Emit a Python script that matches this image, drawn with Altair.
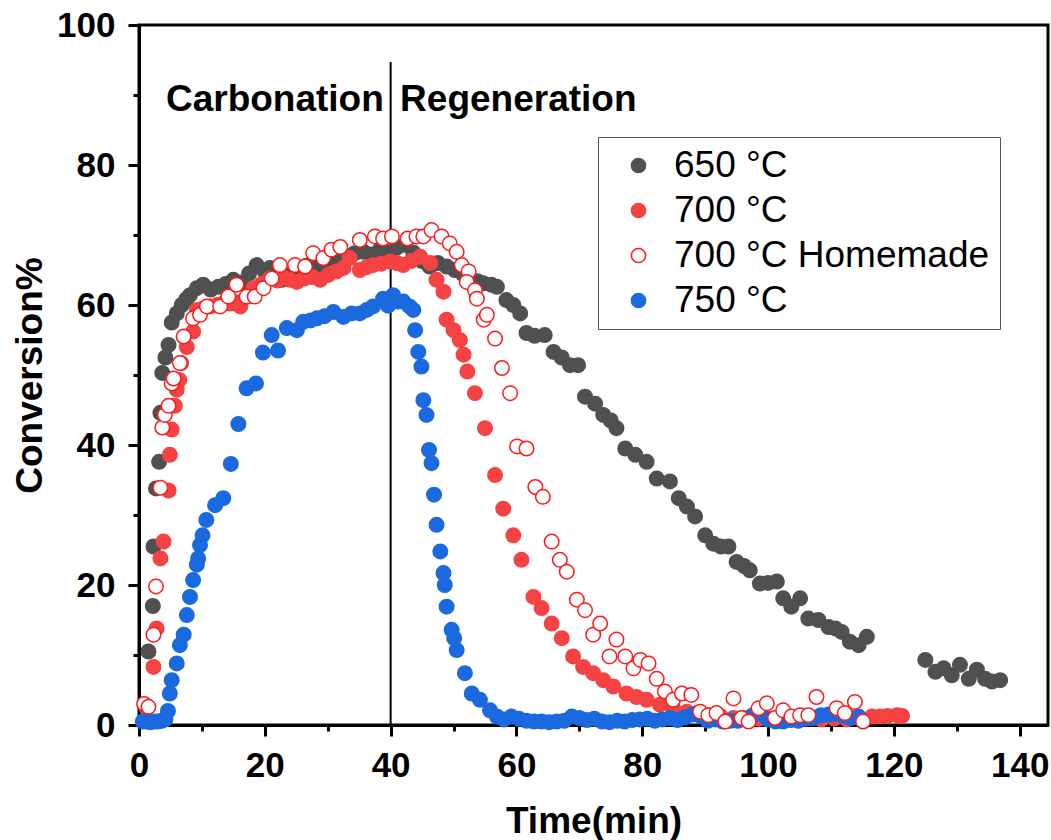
import altair as alt
import pandas as pd

# ---- data ----
x650 = [1.5, 2.2, 2.3, 2.7, 3.2, 3.4, 3.7, 4.2, 4.7, 5.2, 6.0, 6.8, 7.5, 8.1, 9.2, 10.2, 11.4, 12.6, 13.8, 15.0,
        16.3, 17.5, 18.7, 20.0, 20.8, 22.7, 24.0, 25.3, 26.6, 27.9, 29.2, 30.4, 31.7, 33.0, 34.3, 35.7, 37.0, 38.3,
        39.6, 41.0, 42.3, 43.6, 44.9, 46.2, 47.5, 48.9, 50.2, 51.5, 52.6, 53.8, 54.7, 56.0, 56.9, 58.4, 59.5, 60.6,
        61.6, 62.9, 64.5, 65.9, 67.2, 68.5, 69.8, 70.9, 72.5, 73.8, 75.0, 75.9, 77.3, 78.9, 80.7, 82.3, 84.4, 85.8,
        87.1, 88.4, 90.0, 91.3, 92.5, 93.7, 95.0, 96.2, 97.1, 98.7, 100.0, 101.4, 102.4, 103.7, 105.1, 106.4, 108.0,
        109.6, 110.7, 111.7, 113.0, 114.4, 115.7, 125.0, 126.6, 127.9, 129.2, 130.5, 131.9, 133.2, 134.5, 135.6, 136.9]
y650 = [10.5, 17.0, 25.5, 33.8, 37.6, 44.6, 50.3, 52.5, 54.3, 57.5, 58.8, 60.0, 60.8, 61.4, 62.4, 62.9, 62.2, 62.6, 63.0, 63.6,
        63.2, 64.5, 65.7, 64.8, 65.3, 63.6, 64.2, 64.8, 65.6, 65.2, 66.0, 66.7, 66.2, 67.0, 67.4, 67.6, 67.2, 67.9,
        67.5, 68.2, 68.6, 67.5, 66.3, 65.5, 66.0, 65.5, 65.0, 64.4, 63.8, 63.4, 63.1, 62.9, 62.6, 60.7, 60.0, 58.8,
        56.0, 55.6, 55.7, 53.3, 52.5, 51.4, 51.4, 46.9, 45.9, 44.3, 43.5, 42.4, 39.5, 38.6, 37.6, 35.2, 34.8, 32.4,
        31.2, 29.8, 27.1, 25.9, 25.5, 25.5, 23.3, 22.7, 22.1, 20.2, 20.3, 20.5, 18.1, 16.9, 18.1, 15.2, 15.0,
        14.0, 13.8, 13.3, 11.9, 11.4, 12.6, 9.3, 7.6, 8.1, 7.1, 8.6, 6.6, 7.9, 6.6, 6.2, 6.4]

x700 = [1.2, 2.3, 2.8, 3.4, 3.9, 4.7, 4.9, 5.2, 5.7, 6.0, 6.4, 6.7, 7.6, 8.6, 9.2, 10.2, 11.3, 12.4, 13.5, 14.5, 15.3,
        16.1, 17.2, 18.2, 19.5, 20.8, 22.0, 23.0, 24.0, 25.1, 26.3, 27.5, 28.8, 30.1, 31.4, 32.5, 33.5, 35.1, 36.2,
        37.2, 38.5, 39.9, 41.0, 42.0, 43.3, 44.7, 46.3, 47.3, 48.4, 48.9, 50.0, 51.0, 51.6, 52.2, 53.4, 55.0, 56.6,
        57.9, 59.5, 60.8, 62.7, 64.0, 65.6, 67.2, 69.0, 70.6, 72.2, 73.8, 75.4, 77.5, 79.1, 80.7, 82.8, 84.9, 87.1,
        88.7, 90.5, 92.5, 94.5, 96.5, 98.5, 100.5, 102.5, 104.5, 106.5, 108.5, 110.5, 112.5, 114.5, 116.5, 117.8,
        119.0, 120.5, 121.3]
y700 = [2.5, 8.3, 13.8, 23.8, 26.2, 33.5, 38.6, 42.2, 45.6, 47.9, 49.3, 51.7, 54.0, 56.2, 59.3, 59.5, 59.8, 60.0, 60.3, 60.2, 60.4,
        59.8, 61.2, 62.4, 63.0, 63.8, 63.5, 63.9, 63.6, 63.3, 63.8, 64.0, 63.6, 64.3, 64.8, 65.3, 66.7, 65.0, 65.4,
        65.7, 65.9, 66.2, 66.0, 65.7, 66.3, 66.9, 66.0, 63.6, 61.9, 57.9, 56.4, 55.0, 52.9, 50.5, 47.4, 42.4, 35.7,
        30.9, 27.1, 23.6, 18.3, 16.7, 14.5, 12.4, 9.8, 8.3, 7.4, 6.4, 5.5, 4.5, 4.0, 3.6, 2.9, 2.4, 1.9,
        1.7, 1.4, 1.2, 1.0, 1.0, 0.9, 0.9, 0.8, 0.8, 1.0, 0.8, 0.9, 0.8, 1.0, 1.2, 1.2,
        1.3, 1.4, 1.3]

xhm = [0.8, 1.5, 2.3, 2.7, 3.4, 3.7, 4.1, 4.7, 5.2, 5.5, 6.5, 7.1, 8.6, 9.7, 10.8, 12.9, 14.2, 15.5, 17.1, 18.4, 19.8,
       21.1, 22.4, 24.8, 26.4, 27.7, 29.3, 30.6, 32.0, 35.1, 37.5, 38.8, 40.2, 42.7, 44.1, 45.2, 46.5, 48.1, 49.4,
       50.5, 51.3, 52.4, 52.1, 53.4, 53.7, 54.8, 55.3, 56.6, 57.7, 59.0, 60.1, 61.6, 63.0, 64.2, 65.6, 66.9, 68.0,
       69.6, 70.9, 72.2, 73.3, 74.8, 75.9, 77.3, 78.6, 79.7, 81.0, 82.3, 83.6, 84.9, 86.3, 87.8, 89.2, 90.5, 91.8,
       93.2, 94.5, 95.8, 96.9, 98.5, 99.8, 101.1, 102.4, 103.7, 105.1, 106.4, 107.7, 110.9, 112.2, 113.8, 115.1]
yhm = [3.0, 2.6, 12.9, 19.8, 33.9, 42.5, 44.3, 45.6, 48.8, 49.5, 51.7, 55.5, 58.1, 58.6, 59.8, 59.8, 61.2, 62.9, 61.2, 61.2, 62.4,
       63.8, 65.7, 65.7, 65.5, 67.4, 66.7, 67.9, 68.3, 69.3, 69.8, 69.5, 69.8, 69.5, 69.8, 69.8, 70.7, 69.8, 68.8,
       67.6, 65.7, 64.8, 63.3, 62.1, 60.9, 57.9, 58.6, 55.2, 51.0, 47.4, 39.8, 39.5, 34.0, 32.6, 26.2, 23.6, 21.9,
       17.9, 16.4, 12.9, 14.5, 9.8, 12.2, 9.8, 8.1, 9.3, 8.8, 6.6, 4.8, 3.6, 4.5, 4.3, 1.9, 1.4, 1.7,
       0.5, 3.8, 1.0, 0.5, 2.4, 3.1, 1.0, 2.1, 1.2, 1.4, 1.4, 4.0, 2.4, 1.7, 3.3, 0.5]

x750 = [0.6, 1.2, 1.8, 2.4, 3.0, 3.6, 4.2, 4.6, 4.9, 5.2, 6.0, 6.5, 7.1, 7.6, 8.1, 8.6, 9.2, 9.4, 9.7, 10.1, 10.7,
        12.1, 13.4, 14.6, 15.8, 17.1, 18.6, 19.7, 21.1, 22.1, 23.5, 25.1, 26.1, 27.3, 28.3, 29.5, 30.9, 32.5, 33.8,
        35.1, 36.2, 37.2, 38.8, 39.6, 40.4, 41.2, 42.0, 43.0, 43.6, 43.9, 44.4, 44.9, 45.2, 45.7, 46.1, 46.5, 46.9,
        47.3, 47.9, 48.4, 48.6, 48.9, 49.7, 50.1, 50.5, 51.8, 52.9, 54.2, 55.8, 56.9, 58.0, 59.2, 60.4, 61.6, 62.8,
        64.0, 65.2, 66.4, 67.6, 68.8, 70.0, 71.2, 72.4, 73.6, 74.8, 76.0, 77.2, 78.4, 79.6, 80.8, 82.0, 83.2, 84.4,
        85.6, 86.8, 88.0, 89.2, 90.4, 91.6, 92.8, 94.0, 95.2, 96.4, 97.6, 98.8, 100.0, 101.2, 102.4, 103.6, 104.8,
        106.0, 107.2, 108.4, 109.6, 110.8, 112.0, 113.2, 114.4]
y750 = [0.5, 0.5, 0.4, 0.5, 0.5, 0.6, 0.8, 2.0, 4.5, 6.4, 8.8, 11.4, 12.9, 15.7, 18.3, 20.7, 22.9, 23.8, 25.7, 27.1, 29.3,
        31.4, 32.4, 37.3, 43.0, 48.1, 48.8, 53.2, 55.7, 53.5, 56.7, 56.4, 57.6, 57.8, 58.1, 58.4, 59.0, 58.3, 58.8,
        58.8, 59.3, 59.8, 60.9, 59.9, 61.4, 60.5, 60.5, 59.8, 59.3, 56.4, 53.3, 51.2, 46.4, 44.3, 39.3, 37.4, 32.9,
        28.6, 24.8, 21.7, 20.0, 16.9, 13.6, 12.4, 10.7, 7.4, 4.5, 3.6, 2.1, 1.2, 0.8, 1.2, 0.9, 0.6, 0.5,
        0.5, 0.4, 0.5, 0.6, 1.2, 1.0, 0.7, 0.9, 0.5, 0.4, 0.6, 0.5, 0.7, 0.8, 0.9, 0.6, 0.8, 1.0,
        0.7, 1.1, 1.5, 1.3, 0.6, 0.8, 0.5, 0.6, 0.6, 0.9, 1.4, 1.6, 0.8, 0.5, 0.5, 0.7, 0.6,
        0.9, 1.0, 1.4, 1.5, 1.6, 1.3, 1.0, 1.2]

series_names = ["650 °C", "700 °C", "700 °C Homemade", "750 °C"]
series_fill = ["#505050", "#f54242", "#ffffff", "#1a69df"]
series_stroke = ["#505050", "#f54242", "#ff1a1a", "#1a69df"]
draw_order = [0, 1, 3, 2]  # z-order of each series

ann_text = ["Carbonation", "Regeneration"]
ann_x = [21.6, 60.3]
ann_y = [89.3, 89.3]

divider_x = [40]
divider_top = [94.7]

# ---- build table ----
rows = []
for name, xs, ys, z in zip(series_names, [x650, x700, xhm, x750], [y650, y700, yhm, y750], draw_order):
    for xv, yv in zip(xs, ys):
        rows.append({"series": name, "t": xv, "conv": yv, "z": z})
df = pd.DataFrame(rows)
ann = pd.DataFrame({"text": ann_text, "x": ann_x, "y": ann_y})
div = pd.DataFrame({"x": divider_x, "y": [0] * len(divider_x), "y2": divider_top})

FONT = "Liberation Sans"

xscale = alt.Scale(domain=[0, 144.5], nice=False, zero=False)
yscale = alt.Scale(domain=[0, 100], nice=False)

tick_cond = {"condition": {"test": "datum.value % 20 === 0", "value": 11}, "value": 6}

xaxis = alt.Axis(values=list(range(0, 141, 10)),
                 labelExpr="datum.value % 20 === 0 ? datum.label : ''",
                 tickSize=tick_cond, tickWidth=3, tickColor="black",
                 domainWidth=3, domainColor="black", grid=False,
                 labelFont=FONT, labelFontSize=35, labelFontWeight="bold", labelColor="black",
                 labelPadding=12, labelFlush=False, labelOverlap=False,
                 title="Time(min)", titleFont=FONT, titleFontSize=37, titleFontWeight="bold",
                 titleColor="black", titlePadding=20)
yaxis = alt.Axis(values=list(range(0, 101, 10)),
                 labelExpr="datum.value % 20 === 0 ? datum.label : ''",
                 tickSize=tick_cond, tickWidth=3, tickColor="black",
                 domainWidth=3, domainColor="black", grid=False,
                 labelFont=FONT, labelFontSize=35, labelFontWeight="bold", labelColor="black",
                 labelPadding=13, labelFlush=False, labelOverlap=False,
                 title="Conversion%", titleFont=FONT, titleFontSize=37, titleFontWeight="bold",
                 titleColor="black", titlePadding=7)

legend = alt.Legend(title=None, orient="none", legendX=459, legendY=112,
                    strokeColor="#555555", fillColor="white", padding=10,
                    labelFont=FONT, labelFontSize=37, labelColor="black", labelLimit=600,
                    symbolSize=200, symbolStrokeWidth=1.5, symbolOffset=12, labelOffset=17,
                    rowPadding=7, symbolType="circle")

points = alt.Chart(df).mark_circle(size=210, strokeWidth=1.5, opacity=1).encode(
    x=alt.X("t:Q", scale=xscale, axis=xaxis),
    y=alt.Y("conv:Q", scale=yscale, axis=yaxis),
    fill=alt.Fill("series:N", scale=alt.Scale(domain=series_names, range=series_fill), legend=legend),
    stroke=alt.Stroke("series:N", scale=alt.Scale(domain=series_names, range=series_stroke), legend=legend),
    order=alt.Order("z:Q"),
)

rule = alt.Chart(div).mark_rule(color="black", strokeWidth=2).encode(
    x=alt.X("x:Q", scale=xscale),
    y=alt.Y("y:Q", scale=yscale),
    y2="y2:Q",
)

texts = alt.Chart(ann).mark_text(font=FONT, fontSize=37, fontWeight="bold", color="black",
                                 align="center", baseline="middle").encode(
    x=alt.X("x:Q", scale=xscale),
    y=alt.Y("y:Q", scale=yscale),
    text="text:N",
)

chart = alt.layer(rule, points, texts).properties(
    width=909, height=700,
    padding={"left": 139, "top": 25, "right": 3, "bottom": 115},
    autosize=alt.AutoSizeParams(type="none"),
    background="white",
).configure_view(stroke="black", strokeWidth=3)

chart.save("out.html", embed_options={"renderer": "svg", "actions": False})
